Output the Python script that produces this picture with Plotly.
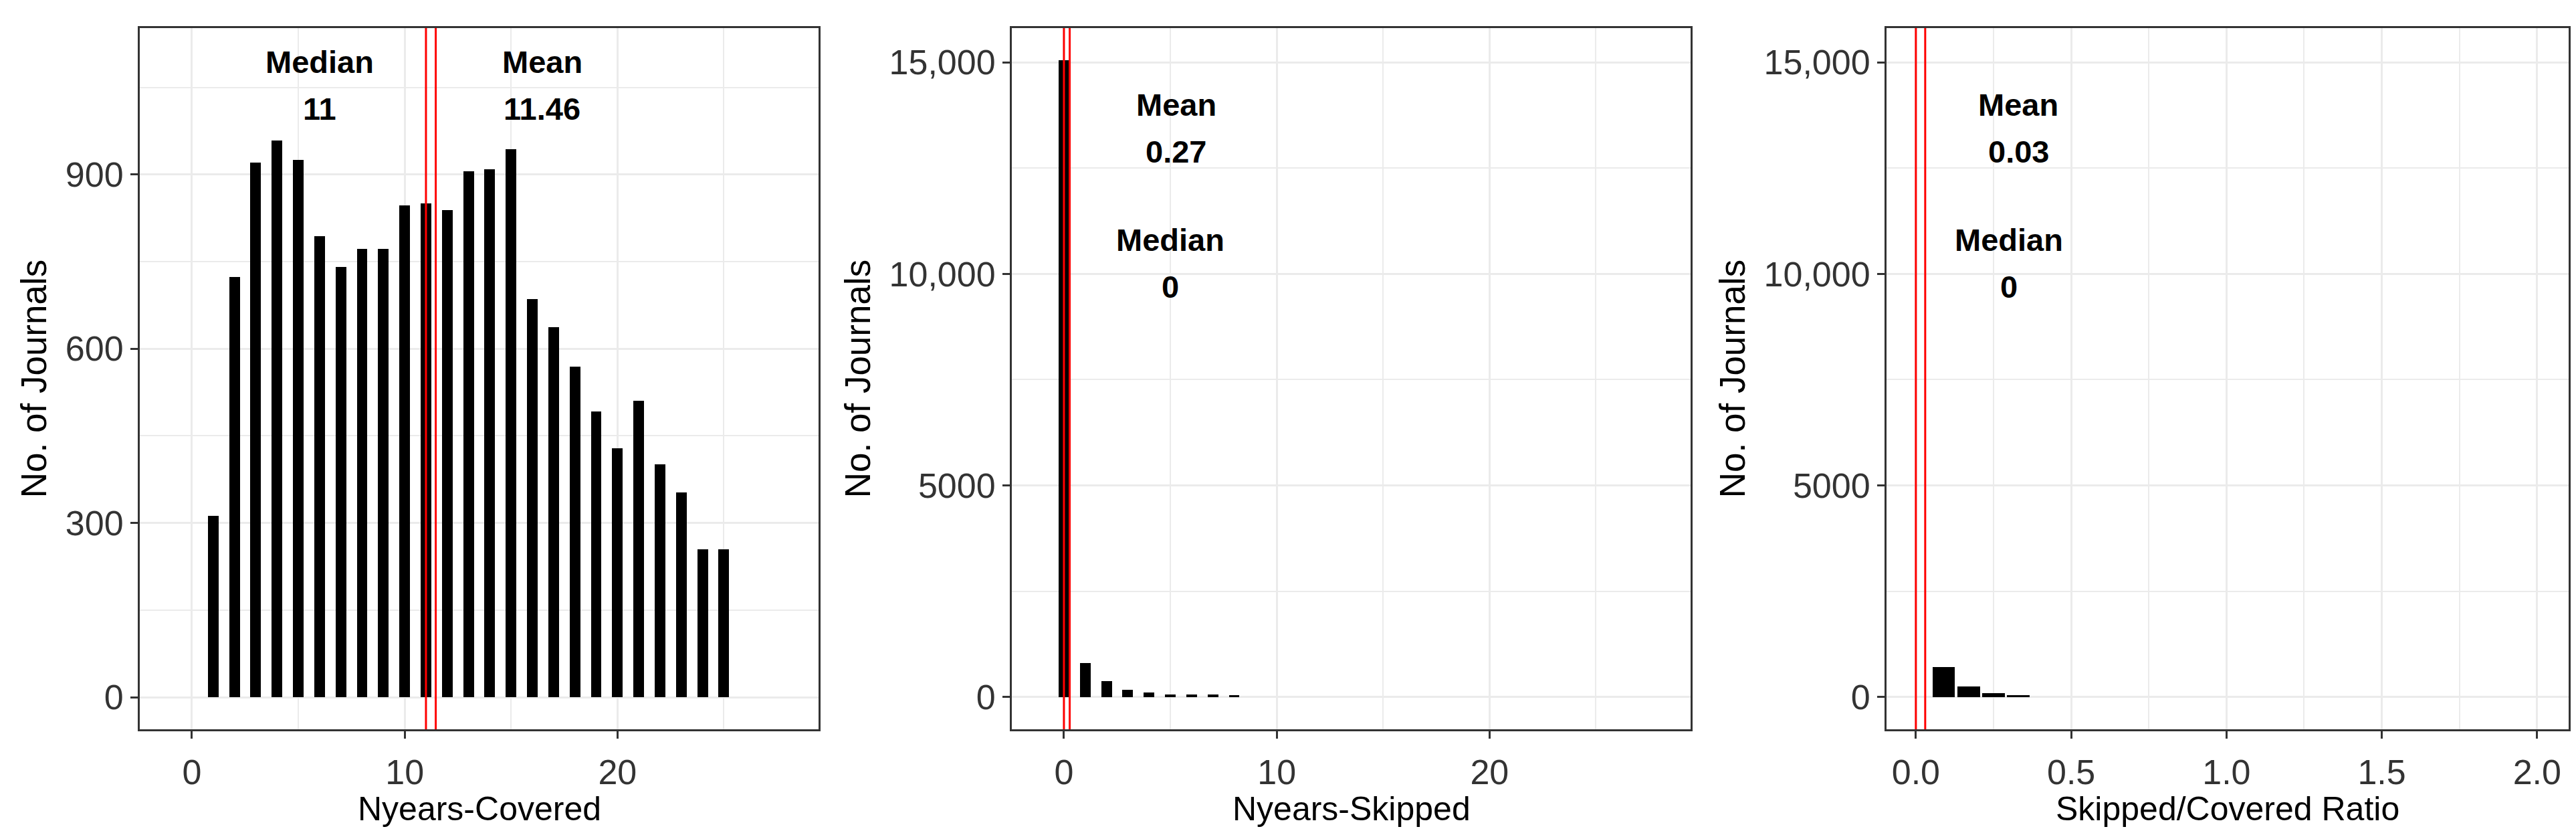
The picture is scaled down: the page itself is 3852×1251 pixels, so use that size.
import plotly.graph_objects as go

# ---------------- data ----------------
covered_years = list(range(1, 26))
covered_counts = [312, 723, 921, 959, 925, 794, 741, 772, 772, 847, 850, 839, 906,
                  909, 944, 686, 637, 569, 492, 428, 510, 401, 353, 255, 255]
covered_median = 11
covered_mean = 11.46

skipped_years = list(range(0, 9))
skipped_counts = [15050, 800, 380, 170, 110, 60, 55, 55, 50]
skipped_median = 0
skipped_mean = 0.27

ratio_bins = [0.09, 0.17, 0.25, 0.33]
ratio_counts = [710, 255, 95, 38]
ratio_median = 0
ratio_mean = 0.03

y_ticks_1 = [0, 300, 600, 900]
y_ticks_23 = [0, 5000, 10000, 15000]
y_ticktext_23 = ["0", "5000", "10,000", "15,000"]
x_ticks_12 = [0, 10, 20]
x_ticks_3 = [0.0, 0.5, 1.0, 1.5, 2.0]
x_ticktext_3 = ["0.0", "0.5", "1.0", "1.5", "2.0"]
x_titles = ["Nyears-Covered", "Nyears-Skipped", "Skipped/Covered Ratio"]
y_title = "No. of Journals"

# ---------------- figure ----------------
FONT = "Liberation Sans, Arial, sans-serif"
W, H = 3852, 1251
fig = go.Figure()

fig.add_trace(go.Bar(x=covered_years, y=covered_counts, width=0.5,
                     marker=dict(color="black", line=dict(width=0)),
                     xaxis="x", yaxis="y", showlegend=False))
fig.add_trace(go.Bar(x=skipped_years, y=skipped_counts, width=0.5,
                     marker=dict(color="black", line=dict(width=0)),
                     xaxis="x2", yaxis="y2", showlegend=False))
fig.add_trace(go.Bar(x=ratio_bins, y=ratio_counts, width=0.072,
                     marker=dict(color="black", line=dict(width=0)),
                     xaxis="x3", yaxis="y3", showlegend=False))

PLOT_TOP, PLOT_BOT = 34, 1082
y_dom = [(H - PLOT_BOT) / H, (H - PLOT_TOP) / H]
x_doms = [[201 / W, 1216 / W], [1505 / W, 2520 / W], [2813 / W, 3833 / W]]

grid = "#EBEBEB"
border = "#333333"
tickfont = dict(family=FONT, size=52, color="#333333")
titlefont = dict(family=FONT, size=53, color="black")


def axis_common():
    return dict(showline=True, mirror=True, linecolor=border, linewidth=3,
                ticks="outside", ticklen=11, tickwidth=3, tickcolor=border,
                showgrid=True, gridcolor=grid, gridwidth=3, zeroline=False,
                tickfont=tickfont, title_font=titlefont)


layout = dict(width=W, height=H, margin=dict(l=0, r=0, t=0, b=0),
              paper_bgcolor="white", plot_bgcolor="white", bargap=0)

for i in range(3):
    sx = "" if i == 0 else str(i + 1)
    xa = axis_common()
    ya = axis_common()
    xa.update(domain=x_doms[i], anchor="y" + sx, ticklabelstandoff=6)
    ya.update(domain=y_dom, anchor="x" + sx,
              title=dict(text=y_title, standoff=12))
    if i < 2:
        xa.update(range=[-2.45, 29.45], tickmode="array", tickvals=x_ticks_12,
                  minor=dict(tickmode="linear", tick0=0, dtick=5, showgrid=True,
                             gridcolor=grid, gridwidth=2))
    else:
        xa.update(range=[-0.0945, 2.1016], tickmode="array", tickvals=x_ticks_3,
                  ticktext=x_ticktext_3,
                  minor=dict(tickmode="linear", tick0=0, dtick=0.25, showgrid=True,
                             gridcolor=grid, gridwidth=2))
    if i == 0:
        ya.update(range=[-55.3, 1152], tickmode="array", tickvals=y_ticks_1,
                  minor=dict(tickmode="linear", tick0=0, dtick=150, showgrid=True,
                             gridcolor=grid, gridwidth=2))
    else:
        ya.update(range=[-764, 15811], tickmode="array", tickvals=y_ticks_23,
                  ticktext=y_ticktext_23,
                  minor=dict(tickmode="linear", tick0=0, dtick=2500, showgrid=True,
                             gridcolor=grid, gridwidth=2))
    layout["xaxis" + sx] = xa
    layout["yaxis" + sx] = ya

fig.update_layout(**layout)

# x-axis titles as annotations
for i in range(3):
    sx = "" if i == 0 else str(i + 1)
    fig.add_annotation(xref="x%s domain" % sx, yref="paper", x=0.5, y=(H - 1201) / H,
                       text=x_titles[i], showarrow=False, xanchor="center",
                       yanchor="middle", font=dict(family=FONT, size=50, color="black"))

# red median / mean lines
for sx, vals in [("", (covered_median, covered_mean)),
                 ("2", (skipped_median, skipped_mean)),
                 ("3", (ratio_median, ratio_mean))]:
    for v in vals:
        fig.add_shape(type="line", xref="x" + sx, yref=("y" + sx) + " domain",
                      x0=v, x1=v, y0=0, y1=1, line=dict(color="red", width=3))

afont = dict(family=FONT, size=47, color="black")


def label(sx, x, y, text):
    fig.add_annotation(xref="x" + sx, yref="y" + sx, x=x, y=y, text="<b>%s</b>" % text,
                       showarrow=False, font=afont, xanchor="center", yanchor="middle")


def fmt(v):
    return "%g" % v


# panel 1
label("", covered_median - 5, 1094, "Median")
label("", covered_median - 5, 1013, fmt(covered_median))
label("", covered_mean + 5, 1094, "Mean")
label("", covered_mean + 5, 1013, fmt(covered_mean))
# panel 2
label("2", skipped_mean + 5, 14000, "Mean")
label("2", skipped_mean + 5, 12900, fmt(skipped_mean))
label("2", skipped_median + 5, 10800, "Median")
label("2", skipped_median + 5, 9700, fmt(skipped_median))
# panel 3
label("3", ratio_mean + 0.3, 14000, "Mean")
label("3", ratio_mean + 0.3, 12900, fmt(ratio_mean))
label("3", ratio_median + 0.3, 10800, "Median")
label("3", ratio_median + 0.3, 9700, fmt(ratio_median))

fig.write_html("out.html")
